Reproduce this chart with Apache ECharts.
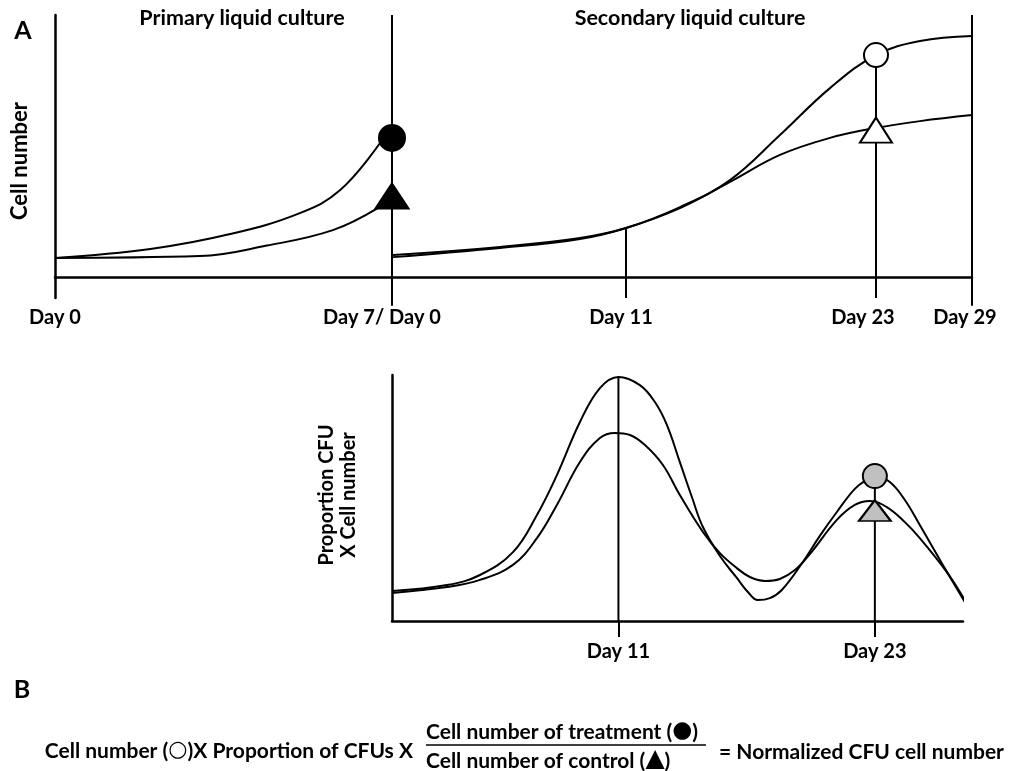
<!DOCTYPE html>
<html>
<head>
<meta charset="utf-8">
<script src="https://cdn.jsdelivr.net/npm/echarts@6/dist/echarts.min.js"></script>
<style>
  html, body { margin: 0; padding: 0; background: #ffffff; }
  #chart { width: 1011px; height: 771px; }
</style>
</head>
<body>
<div id="chart"></div>
<script>
// Schematic time axis: each labelled day sits at a position along the drawn axis (not to scale)
const tickPositions = [0, 36.75, 62.27, 89.53, 100];
const tickLabels = ['Day 0', 'Day 7/ Day 0', 'Day 11', 'Day 23', 'Day 29'];
// Guide lines above each day (bottom / top, in cell-number units)
const guideBottom = [null, -11, -8, -8, -11];
const guideTop = [null, 100, 18.7, 84.7, 100];

// Panel A, primary culture (Day 0 to Day 7)
const primaryTreatment = [[0, 7.3], [10.4, 10.7], [19.1, 16.4], [26.7, 24.4], [31.1, 33.2], [35.6, 51.9]];
const primaryControl = [[0, 7.3], [15.8, 8.0], [23.1, 12.0], [30.3, 17.9], [35.2, 26.3]];

// Panel A, secondary culture (Day 0 to Day 29)
const secondaryUpper = [[36.86, 8.4], [48.53, 11.5], [57.25, 14.9], [62.27, 18.7], [68.16, 26.7], [73.61, 37.0], [79.06, 54.2], [84.51, 72.1], [89.53, 84.7], [94.33, 90.1], [100, 92.0]];
const secondaryLower = [[36.86, 7.6], [48.53, 11.1], [57.25, 14.5], [62.27, 18.7], [68.16, 26.3], [73.61, 36.3], [79.06, 46.6], [84.51, 53.1], [89.53, 56.9], [94.33, 59.5], [100, 61.8]];

// Markers on panel A
const day7Treatment = [36.75, 53.1];
const day7Control = [36.75, 30.9];
const day23Upper = [89.53, 84.7];
const day23Lower = [89.53, 56.1];

// Lower panel: proportion CFU x cell number
const cfuTickPositions = [62.27, 89.53];
const cfuTickLabels = ['Day 11', 'Day 23'];
const cfuGuideTop = [99.2, 58.9];
const cfuUpper = [[38.2, 12.2], [44.04, 14.6], [47.55, 18.7], [51.06, 28.0], [53.61, 43.1], [55.73, 59.3], [58.18, 80.9], [60.3, 94.7], [62.27, 99.2], [64.55, 95.9], [66.15, 89.0], [67.42, 79.7], [68.8, 64.6], [70.08, 50.4], [71.25, 38.2], [73.06, 26.4], [74.86, 17.5], [76.03, 11.8], [77.09, 8.5], [78.37, 9.3], [79.64, 12.6], [81.88, 24.0], [83.68, 34.6], [85.49, 44.3], [87.4, 53.7], [88.78, 57.7], [89.53, 58.9], [91.12, 56.5], [92.72, 49.2], [94.31, 39.0], [96.76, 22.8], [99.09, 7.7]];
const cfuLower = [[38.2, 11.4], [44.04, 13.8], [47.55, 16.7], [51.06, 22.8], [53.61, 33.7], [55.73, 47.2], [58.18, 64.6], [60.3, 74.4], [61.9, 76.4], [63.49, 75.6], [65.09, 71.5], [67.0, 63.4], [68.8, 51.2], [71.25, 36.2], [73.06, 27.6], [74.86, 21.5], [76.24, 17.9], [77.84, 16.3], [79.43, 17.1], [81.03, 20.7], [82.62, 27.2], [85.49, 41.1], [87.4, 47.2], [88.99, 48.8], [90.8, 46.3], [92.72, 40.2], [94.31, 33.7], [97.18, 19.9], [99.09, 8.5]];
const cfuDay23Upper = [89.53, 58.9];
const cfuDay23Lower = [89.53, 44.9];

const FONT = 'Lato, "DejaVu Sans", sans-serif';
const SYMBOL_FONT = '"DejaVu Sans", sans-serif';
const black = '#000000';
const grey = '#c0c0c0';
// Extra right padding per tick label, nudging the text slightly left of its line
const labelNudge = [0, 20, 10, 26, 14];

function curve(data, xi, yi) {
  return {
    type: 'line', xAxisIndex: xi, yAxisIndex: yi, data: data,
    smooth: 0.4, showSymbol: false, symbol: 'none', clip: false, z: 3,
    lineStyle: { color: black, width: 2 }, silent: true
  };
}
function guide(x, y0, y1, xi, yi) {
  return {
    type: 'line', xAxisIndex: xi, yAxisIndex: yi, data: [[x, y0], [x, y1]],
    showSymbol: false, symbol: 'none', clip: false, z: 2,
    lineStyle: { color: black, width: 2 }, silent: true
  };
}
function marker(pt, shape, size, fill, xi, yi) {
  return {
    type: 'scatter', xAxisIndex: xi, yAxisIndex: yi, data: [pt],
    symbol: shape, symbolSize: size, z: 5, silent: true,
    itemStyle: { color: fill, borderColor: black, borderWidth: 2, opacity: 1 }
  };
}

const series = [];
for (let i = 1; i < tickPositions.length; i++) {
  series.push(guide(tickPositions[i], guideBottom[i], guideTop[i], 0, 0));
}
series.push(curve(primaryTreatment, 0, 0));
series.push(curve(primaryControl, 0, 0));
series.push(curve(secondaryUpper, 0, 0));
series.push(curve(secondaryLower, 0, 0));
series.push(marker(day7Treatment, 'circle', 26, black, 0, 0));
series.push(marker(day7Control, 'triangle', [33, 25], black, 0, 0));
series.push(marker(day23Upper, 'circle', 24, '#ffffff', 0, 0));
series.push(marker(day23Lower, 'triangle', [32, 25], '#ffffff', 0, 0));

for (let i = 0; i < cfuTickPositions.length; i++) {
  series.push(guide(cfuTickPositions[i], 0, cfuGuideTop[i], 1, 1));
}
series.push(curve(cfuUpper, 1, 1));
series.push(curve(cfuLower, 1, 1));
series.push(marker(cfuDay23Upper, 'circle', 24, grey, 1, 1));
series.push(marker(cfuDay23Lower, 'triangle', [32, 21], grey, 1, 1));

const labelStyle = { color: black, fontFamily: FONT, fontWeight: 'bold', fontSize: 20 };
const richTop = {};
labelNudge.forEach(function (p, i) {
  richTop['n' + i] = Object.assign({ padding: [0, p, 0, 0] }, labelStyle);
});

function formulaText(x, y, align, parts, size) {
  return {
    type: 'text', x: x, y: y,
    style: {
      text: parts, align: align, verticalAlign: 'middle', fill: black,
      font: 'bold ' + size + 'px ' + FONT,
      rich: {
        t: { font: 'bold ' + size + 'px ' + FONT, fill: black },
        o: { font: '22px ' + SYMBOL_FONT, fill: black, padding: [0, 0, 2, 0] },
        c: { font: '23px ' + SYMBOL_FONT, fill: black, padding: [0, 0, 2, 0] },
        g: { font: '25px ' + SYMBOL_FONT, fill: black, padding: [0, 0, 3, 0] }
      }
    }
  };
}

const option = {
  backgroundColor: '#ffffff',
  animation: false,
  grid: [
    { left: 55, right: 39, top: 15, bottom: 473, containLabel: false },
    { left: 392, right: 48, top: 375, bottom: 150, containLabel: false }
  ],
  xAxis: [
    {
      type: 'value', gridIndex: 0, min: 0, max: 100,
      axisLine: { show: true, onZero: true, lineStyle: { color: black, width: 2.5 } },
      axisTick: { show: false },
      splitLine: { show: false },
      axisLabel: Object.assign({
        customValues: tickPositions,
        margin: 10,
        formatter: function (v) {
          const i = tickPositions.indexOf(v);
          return '{n' + i + '|' + tickLabels[i] + '}';
        },
        rich: richTop
      }, labelStyle)
    },
    {
      type: 'value', gridIndex: 1, min: 38.2, max: 98.9,
      axisLine: { show: true, onZero: false, lineStyle: { color: black, width: 2.5 } },
      axisTick: { show: true, customValues: cfuTickPositions, length: 16, lineStyle: { color: black, width: 2 } },
      splitLine: { show: false },
      axisLabel: Object.assign({
        customValues: cfuTickPositions,
        margin: 21,
        formatter: function (v) { return cfuTickLabels[cfuTickPositions.indexOf(v)]; }
      }, labelStyle)
    }
  ],
  yAxis: [
    {
      type: 'value', gridIndex: 0, min: -8, max: 100,
      axisLine: { show: true, onZero: true, lineStyle: { color: black, width: 2.5 } },
      axisTick: { show: false }, axisLabel: { show: false }, splitLine: { show: false }
    },
    {
      type: 'value', gridIndex: 1, min: 0, max: 100,
      axisLine: { show: true, onZero: false, lineStyle: { color: black, width: 2.5 } },
      axisTick: { show: false }, axisLabel: { show: false }, splitLine: { show: false }
    }
  ],
  graphic: [
    { type: 'text', x: 23, y: 31, style: { text: 'A', font: 'bold 25px ' + FONT, fill: black, align: 'center', verticalAlign: 'middle' } },
    { type: 'text', x: 242, y: 18, style: { text: 'Primary liquid culture', font: 'bold 21.5px ' + FONT, fill: black, align: 'center', verticalAlign: 'middle' } },
    { type: 'text', x: 690, y: 18, style: { text: 'Secondary liquid culture', font: 'bold 21.5px ' + FONT, fill: black, align: 'center', verticalAlign: 'middle' } },
    { type: 'text', x: 20, y: 161, rotation: Math.PI / 2, style: { text: 'Cell number', font: 'bold 22px ' + FONT, fill: black, align: 'center', verticalAlign: 'middle' } },
    { type: 'text', x: 327, y: 495, rotation: Math.PI / 2, style: { text: 'Proportion CFU', font: 'bold 20px ' + FONT, fill: black, align: 'center', verticalAlign: 'middle' } },
    { type: 'text', x: 349, y: 495, rotation: Math.PI / 2, style: { text: 'X Cell number', font: 'bold 20px ' + FONT, fill: black, align: 'center', verticalAlign: 'middle' } },
    { type: 'text', x: 22, y: 690, style: { text: 'B', font: 'bold 25px ' + FONT, fill: black, align: 'center', verticalAlign: 'middle' } },
    formulaText(413, 751, 'right', '{t|Cell number (}{o|\u25CB}{t|)X Proportion of CFUs X}', 21),
    formulaText(426, 732, 'left', '{t|Cell number of treatment (}{c|\u25CF}{t|)}', 21),
    { type: 'line', shape: { x1: 426, y1: 745, x2: 706, y2: 745 }, style: { stroke: black, lineWidth: 1.5 } },
    formulaText(426, 761, 'left', '{t|Cell number of control (}{g|\u25B2}{t|)}', 21),
    formulaText(719, 752, 'left', '{t|= Normalized CFU cell number}', 21)
  ],
  series: series
};

const chart = echarts.init(document.getElementById('chart'), null, { renderer: 'canvas' });
chart.setOption(option);
</script>
</body>
</html>
